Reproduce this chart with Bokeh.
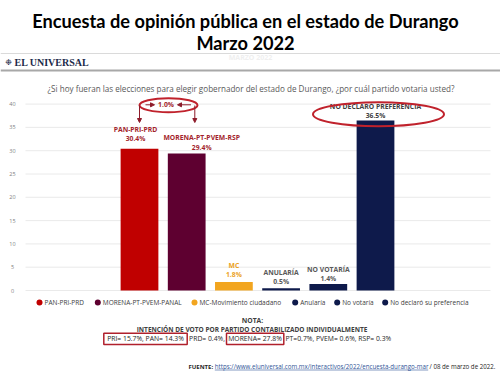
from bokeh.plotting import figure
from bokeh.models import Range1d, Arrow, NormalHead
from bokeh.core.properties import value
from bokeh.embed import file_html
from bokeh.resources import INLINE

# ---------------- data ----------------
categories = ["PAN-PRI-PRD", "MORENA-PT-PVEM-RSP", "MC", "ANULARÍA", "NO VOTARÍA", "NO DECLARÓ PREFERENCIA"]
values = [30.4, 29.4, 1.8, 0.5, 1.4, 36.5]
y_ticks = [0, 5, 10, 15, 20, 25, 30, 35, 40]
legend_labels = ["PAN-PRI-PRD", "MORENA-PT-PVEM-PANAL", "MC-Movimiento ciudadano",
                 "Anularía", "No votaría", "No declaró su preferencia"]
note_parties = ["PRI", "PAN", "PRD", "MORENA", "PT", "PVEM", "RSP"]
note_values = [15.7, 14.3, 0.4, 27.8, 0.7, 0.6, 0.3]

title_1 = "Encuesta de opinión pública en el estado de Durango"
title_2 = "Marzo 2022"
subtitle = "¿Si hoy fueran las elecciones para elegir gobernador del estado de Durango, ¿por cuál partido votaria usted?"
source_url = "https://www.eluniversal.com.mx/interactivos/2022/encuesta-durango-mar"
source_date = "/ 08 de marzo de 2022."

# ---------------- styles ----------------
NAVY = "#0E1A4B"
bar_colors = ["#C00000", "#5E0030", "#F2A51F", NAVY, NAVY, NAVY]
label_colors = ["#A31F2D", "#A31F2D", "#EBA21E", "#595959", "#595959", "#3F3F3F"]
legend_colors = ["#C00000", "#5E0030", "#F2A51F", NAVY, NAVY, NAVY]
label_dx = [-4, 15, 0, 0, 0, 0]          # label shift (px) from bar centre
pct_dy = [-10, -6.3, -7.6, -6.7, -5.2, -4.5]  # percent label centre above bar top (px)
NAME_GAP = 9.4
RED = "#C0222C"
FONT = value("Open Sans")

# layout: pixel geometry of the plot area
X0_PX, X_STEP = 139.0, 47.2       # centre of first bar, category spacing
Y0_PX, Y_PER = 290.0, 4.66        # pixel row of 0 %, pixels per percent
W, H = 500, 375


def X(px):
    return (px - X0_PX) / X_STEP


def Y(py):
    return (Y0_PX - py) / Y_PER


p = figure(width=W, height=H, output_backend="svg", toolbar_location=None,
           x_range=Range1d(X(0), X(W)), y_range=Range1d(Y(H), Y(0)),
           x_axis_location=None, y_axis_location=None, min_border=0)
p.grid.visible = False
p.outline_line_color = None
p.background_fill_color = "white"
p.border_fill_color = "white"

# ---------------- header ----------------
p.text(x=[X(245)], y=[Y(20.5)], text=[title_1], text_font=value("Lato"), text_font_style="bold",
       text_font_size="18.2px", text_color="#000000", text_align="center", text_baseline="middle")
p.text(x=[X(245)], y=[Y(42)], text=[title_2], text_font=value("Lato"), text_font_style="bold",
       text_font_size="18.2px", text_color="#000000", text_align="center", text_baseline="middle")
p.segment(x0=[X(0)], x1=[X(W)], y0=[Y(53)], y1=[Y(53)], line_color="#DADADA", line_width=1)
p.text(x=[X(250)], y=[Y(57)], text=[title_2.upper()], text_font=FONT, text_font_style="bold",
       text_font_size="7px", text_color="#EFEFEF", text_align="center", text_baseline="middle")
p.text(x=[X(8)], y=[Y(62)], text=["❉"], text_font=value("DejaVu Sans"),
       text_font_size="8px", text_color="#1B2A4A", text_align="center", text_baseline="middle")
p.text(x=[X(14)], y=[Y(62)], text=["EL UNIVERSAL"], text_font=value("Liberation Serif"), text_font_style="bold",
       text_font_size="10px", text_color="#1B2A4A", text_align="left", text_baseline="middle")
p.segment(x0=[X(0)], x1=[X(W)], y0=[Y(70)], y1=[Y(70)], line_color="#A8A8A8", line_width=2)
p.text(x=[X(250.5)], y=[Y(88)], text=[subtitle], text_font=FONT, text_font_size="8.1px",
       text_color="#595959", text_align="center", text_baseline="middle")

# ---------------- grid + y ticks ----------------
p.segment(x0=[X(25)] * len(y_ticks), x1=[X(490)] * len(y_ticks), y0=y_ticks, y1=y_ticks,
          line_color="#E4E4E4", line_width=0.8)
p.text(x=[X(12)] * len(y_ticks), y=y_ticks, text=[str(t) for t in y_ticks], text_font=FONT,
       text_font_size="5.5px", text_color="#808080", text_align="center", text_baseline="middle")

# ---------------- bars ----------------
idx = list(range(len(categories)))
p.vbar(x=idx, top=values, bottom=0, width=0.8, fill_color=bar_colors, line_color=None)
p.text(x=idx, y=values, text=[f"{v:.1f}%" for v in values], x_offset=label_dx, y_offset=pct_dy,
       text_font=FONT, text_font_style="bold", text_font_size="6.8px", text_color=label_colors,
       text_align="center", text_baseline="middle")
p.text(x=idx, y=values, text=categories, x_offset=label_dx, y_offset=[d - NAME_GAP for d in pct_dy],
       text_font=FONT, text_font_style="bold", text_font_size="6.8px", text_color=label_colors,
       text_align="center", text_baseline="middle")

# ---------------- gap annotation ----------------
gap = values[0] - values[1]
p.ellipse(x=[X(168)], y=[Y(104.7)], width=58, height=14, width_units="screen", height_units="screen",
          fill_color=None, line_color=RED, line_width=2)
p.text(x=[X(165.5)], y=[Y(104.3)], text=[f"{gap:.1f}%"], text_font=FONT, text_font_style="bold",
       text_font_size="6.8px", text_color="#A31F2D", text_align="center", text_baseline="middle")
AR = "#8E1B2A"
for (xs, xe) in [(145, 154), (190.5, 177)]:
    p.add_layout(Arrow(x_start=X(xs), x_end=X(xe), y_start=Y(104.3), y_end=Y(104.3),
                       line_color=AR, line_width=1,
                       end=NormalHead(size=4, fill_color=AR, line_color=AR)))
for xp in [139, 194.3]:
    p.add_layout(Arrow(x_start=X(xp), x_end=X(xp), y_start=Y(105), y_end=Y(122),
                       line_color=AR, line_width=1,
                       end=NormalHead(size=4, fill_color=AR, line_color=AR)))

# ellipse around "no declaró"
p.ellipse(x=[X(378)], y=[Y(113.8)], width=131, height=24, width_units="screen", height_units="screen",
          fill_color=None, line_color=RED, line_width=2)

# ---------------- legend ----------------
legend_dot_px = [39, 97.3, 194, 294.7, 336.7, 384.7]
p.scatter(x=[X(v) for v in legend_dot_px], y=[Y(302)] * len(legend_labels), marker="circle", size=6,
          fill_color=legend_colors, line_color=None)
p.text(x=[X(v + 5) for v in legend_dot_px], y=[Y(302)] * len(legend_labels), text=legend_labels,
       text_font=FONT, text_font_size="6.5px", text_color="#404040",
       text_align="left", text_baseline="middle")

# ---------------- note ----------------
p.text(x=[X(252)], y=[Y(319.5)], text=["NOTA:"], text_font=FONT, text_font_style="bold",
       text_font_size="6.8px", text_color="#404040", text_align="center", text_baseline="middle")
p.text(x=[X(251.5)], y=[Y(328.5)], text=["INTENCIÓN DE VOTO POR PARTIDO CONTABILIZADO INDIVIDUALMENTE"],
       text_font=FONT, text_font_style="bold", text_font_size="6.5px", text_color="#404040",
       text_align="center", text_baseline="middle")

items = [f"{n}= {v}%" for n, v in zip(note_parties, note_values)]
items[4] = f"{note_parties[4]}={note_values[4]}%"
seg_a = ", ".join(items[0:2])
seg_b = items[2] + ","
seg_c = items[3]
seg_d = ", ".join(items[4:])
ny = Y(338)
p.text(x=[X(145)], y=[ny], text=[seg_a], text_font=FONT, text_font_size="6.8px", text_color="#262626",
       text_align="center", text_baseline="middle")
p.text(x=[X(206.5)], y=[ny], text=[seg_b], text_font=FONT, text_font_size="6.8px", text_color="#262626",
       text_align="center", text_baseline="middle")
p.text(x=[X(254.5)], y=[ny], text=[seg_c], text_font=FONT, text_font_size="6.8px", text_color="#262626",
       text_align="center", text_baseline="middle")
p.text(x=[X(285)], y=[ny], text=[seg_d], text_font=FONT, text_font_size="6.8px", text_color="#262626",
       text_align="left", text_baseline="middle")
p.quad(left=[X(103.3), X(226)], right=[X(186.7), X(283.3)], top=[Y(332.7)] * 2, bottom=[Y(344)] * 2,
       fill_color=None, line_color="#B0202C", line_width=1.5)

# ---------------- source ----------------
sy = Y(366)
p.text(x=[X(188)], y=[sy], text=["FUENTE:"], text_font=FONT, text_font_style="bold",
       text_font_size="6px", text_color="#262626", text_align="left", text_baseline="middle")
p.text(x=[X(214.3)], y=[sy], text=[source_url], text_font=FONT, text_font_size="6.2px",
       text_color="#2F5597", text_align="left", text_baseline="middle")
p.segment(x0=[X(214.3)], x1=[X(427.7)], y0=[Y(369.5)], y1=[Y(369.5)], line_color="#2F5597", line_width=0.6)
p.text(x=[X(495)], y=[sy], text=[source_date], text_font=FONT, text_font_size="6.2px",
       text_color="#262626", text_align="right", text_baseline="middle")

open("out.html", "w").write(file_html(p, INLINE))
